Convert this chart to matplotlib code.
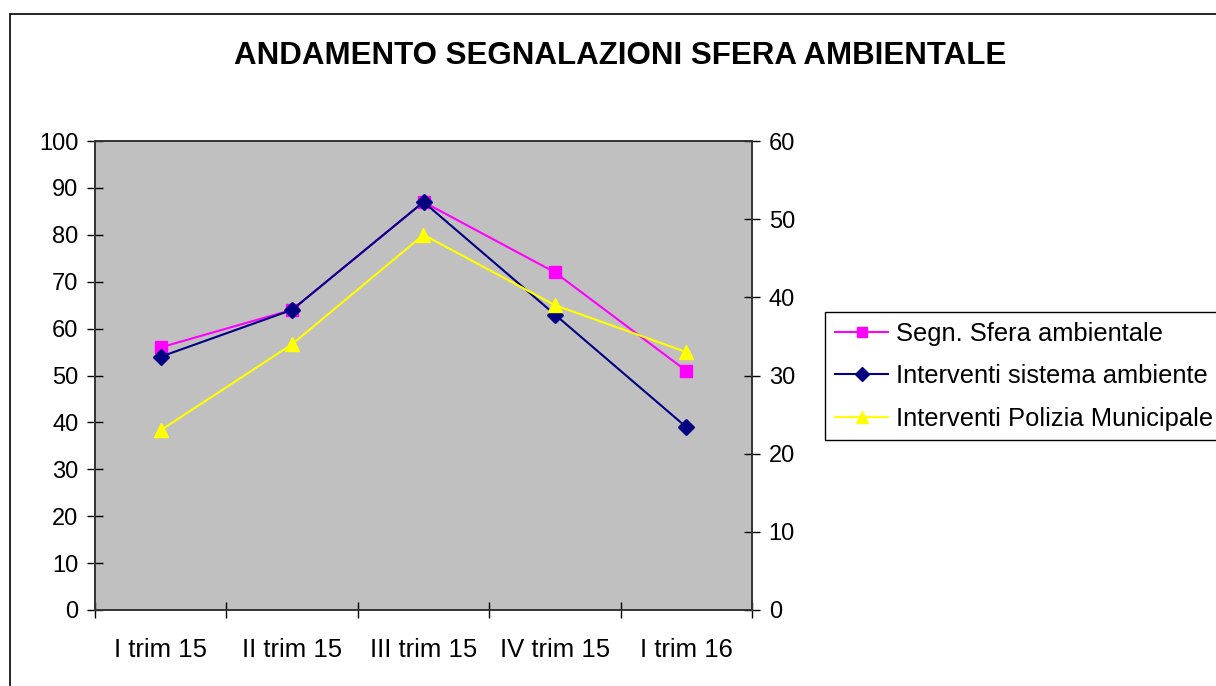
import matplotlib
matplotlib.use("Agg")
import matplotlib.pyplot as plt
from matplotlib.patches import Rectangle

plt.rcParams['font.family'] = ['Liberation Sans', 'DejaVu Sans']

trimestri = ["I trim 15", "II trim 15", "III trim 15", "IV trim 15", "I trim 16"]
segn_sfera = [56, 64, 87, 72, 51]
interventi_sistema = [54, 64, 87, 63, 39]
interventi_polizia = [23, 34, 48, 39, 33]

fig = plt.figure(figsize=(12.16, 6.86), dpi=100)
# outer chart border (cut by the image edges on right and bottom)
fig.patches.append(Rectangle((10/1216, -0.05), 1.2, 1.05 - 14/686,
                             transform=fig.transFigure, fill=False,
                             edgecolor="black", linewidth=1.2))

ax = fig.add_axes([95/1216, 1 - 610/686, 657/1216, 469/686])
ax.set_facecolor("#C0C0C0")
ax2 = ax.twinx()

x = range(len(trimestri))
l1, = ax.plot(x, segn_sfera, color="#FF00FF", marker="s", markersize=9,
              linewidth=1.5, label="Segn. Sfera ambientale", zorder=3)
l2, = ax.plot(x, interventi_sistema, color="#000080", marker="D", markersize=8,
              linewidth=1.5, label="Interventi sistema ambiente", zorder=4)
l3, = ax2.plot(x, interventi_polizia, color="#FFFF00", marker="^", markersize=10,
               linewidth=1.5, label="Interventi Polizia Municipale")

ax.set_xlim(-0.5, 4.5)
ax.set_ylim(0, 100)
ax2.set_ylim(0, 60)
ax.set_yticks(range(0, 101, 10))
ax2.set_yticks(range(0, 61, 10))
ax.set_xticks([i - 0.5 for i in range(6)])
ax.set_xticklabels([])
ax.set_xticks(list(x), minor=True)
ax.set_xticklabels(trimestri, minor=True)

ax.tick_params(axis="x", which="major", direction="inout", length=12, width=1)
ax.tick_params(axis="x", which="minor", length=0, labelsize=18.5, pad=20)
ax.tick_params(axis="y", direction="inout", length=12, width=1, labelsize=17, pad=6)
ax2.tick_params(axis="y", direction="inout", length=12, width=1, labelsize=17, pad=6)
for a in (ax, ax2):
    for s in a.spines.values():
        s.set_color("#333333")
        s.set_linewidth(1.2)

fig.text(620/1216, 1 - 56/686, "ANDAMENTO SEGNALAZIONI SFERA AMBIENTALE",
         ha="center", va="center", fontsize=22.5, fontweight="bold")

leg = ax.legend(handles=[l1, l2, l3], loc="upper left",
                bbox_to_anchor=(825/1216, 1 - 312/686), bbox_transform=fig.transFigure,
                fontsize=18.4, frameon=True, fancybox=False, edgecolor="black",
                framealpha=1, borderaxespad=0, handlelength=2.1, labelspacing=0.72,
                borderpad=0.38, handletextpad=0.3, markerscale=0.85)
leg.get_frame().set_linewidth(1)

fig.savefig("out.png", dpi=100)
